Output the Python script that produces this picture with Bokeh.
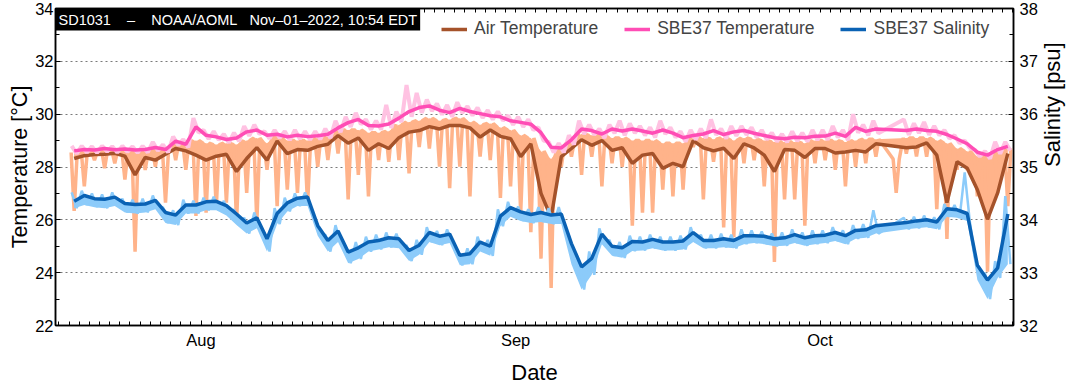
import math
from bokeh.plotting import figure
from bokeh.models import Range1d, LinearAxis, FixedTicker, Label, Legend, LegendItem
from bokeh.embed import file_html
from bokeh.resources import INLINE

# x values: days counted from 2022-07-01 (= day 0); Aug 1 = 31, Sep 1 = 62, Oct 1 = 92
month_ticks = [31, 62, 92]
month_labels = ["Aug", "Sep", "Oct"]
day_ticks = list(range(17, 112))

# one sample per day, starting 2022-07-19 12:00
days = [18.5 + i for i in range(93)]

# SBE37 temperature, daily smoothed [degC]
sbe_temp = [28.61, 28.66, 28.64, 28.70, 28.65, 28.68, 28.64, 28.66, 28.74, 28.66,
            28.98, 28.86, 29.52, 29.20, 29.14, 29.04, 29.10, 29.33, 29.40, 29.20,
            29.24, 29.14, 29.20, 29.15, 29.18, 29.24, 29.48, 29.68, 29.80, 29.57,
            29.55, 29.63, 29.85, 30.10, 30.25, 30.31, 30.15, 30.06, 30.22, 30.10,
            30.02, 29.94, 29.90, 29.75, 29.69, 29.62, 29.30, 28.75, 28.72, 29.03,
            29.44, 29.38, 29.25, 29.44, 29.36, 29.44, 29.36, 29.28, 29.40, 29.28,
            29.11, 29.19, 29.25, 29.38, 29.23, 29.33, 29.38, 29.28, 29.19, 29.11,
            29.07, 29.13, 29.11, 29.16, 29.17, 29.28, 29.16, 29.50, 29.35, 29.44,
            None, None, 29.38, 29.44, 29.38, 29.35, 29.23, 29.06, 28.88, 28.56,
            28.45, 28.66, 28.78]
sbe_temp_hi = [28.80, 28.80, 28.78, 28.80, 28.78, 28.80, 28.78, 28.80, 28.95, 28.85,
               29.15, 29.05, 29.85, 29.40, 29.35, 29.25, 29.30, 29.55, 29.60, 29.35,
               29.40, 29.35, 29.40, 29.35, 29.35, 29.45, 29.75, 29.90, 30.05, 29.80,
               29.75, 30.35, 30.10, 31.10, 30.80, 30.55, 30.40, 30.35, 30.45, 30.30,
               30.25, 30.15, 30.10, 29.95, 29.90, 29.80, 29.50, 28.95, 28.90, 29.20,
               29.75, 29.60, 29.45, 29.60, 29.75, 29.65, 29.55, 29.50, 29.75, 29.50,
               29.35, 29.40, 29.45, 29.80, 29.45, 29.55, 29.55, 29.50, 29.40, 29.30,
               29.25, 29.35, 29.30, 29.40, 29.40, 29.55, 29.40, 30.00, 29.60, 29.75,
               None, None, 29.80, 29.65, 29.70, 29.55, 29.40, 29.20, 29.00, 28.65,
               28.60, 28.95, 28.95]
sbe_temp_lo = [28.50, 28.55, 28.54, 28.58, 28.55, 28.57, 28.54, 28.55, 28.62, 28.55,
               28.82, 28.74, 29.30, 29.06, 29.02, 28.92, 28.98, 29.18, 29.25, 29.08,
               29.10, 29.02, 29.06, 29.03, 29.05, 29.10, 29.32, 29.52, 29.62, 29.42,
               29.42, 29.48, 29.70, 29.90, 30.05, 30.12, 29.98, 29.90, 30.05, 29.95,
               29.86, 29.80, 29.76, 29.60, 29.52, 29.40, 29.00, 28.55, 28.55, 28.85,
               29.25, 29.22, 29.10, 29.28, 29.20, 29.28, 29.20, 29.12, 29.25, 29.12,
               28.96, 29.04, 29.10, 29.22, 29.08, 29.18, 29.22, 29.12, 29.04, 28.96,
               28.94, 28.98, 28.96, 29.02, 29.03, 29.12, 29.02, 29.30, 29.20, 29.28,
               None, None, 29.22, 29.28, 29.22, 29.20, 29.08, 28.90, 28.72, 28.40,
               28.32, 28.50, 28.62]

# Air temperature, daily smoothed [degC]
air_temp = [28.32, 28.43, 28.47, 28.48, 28.52, 28.41, 27.70, 28.36, 28.26, 28.48,
            28.70, 28.61, 28.45, 28.26, 28.41, 28.48, 27.83, 28.32, 28.73, 28.26,
            28.98, 28.51, 28.66, 28.63, 28.78, 28.86, 29.19, 28.90, 29.10, 28.63,
            28.88, 28.70, 29.11, 29.32, 29.38, 29.53, 29.44, 29.57, 29.57, 29.48,
            29.13, 29.40, 29.16, 29.07, 28.39, 28.88, 27.00, 26.09, 28.39, 28.70,
            29.03, 28.82, 29.00, 28.63, 28.73, 28.14, 28.45, 28.51, 27.95, 28.14,
            28.01, 29.00, 28.73, 28.61, 28.71, 28.32, 28.88, 28.72, 28.45, 27.83,
            28.66, 28.63, 28.36, 28.70, 28.70, 28.53, 28.57, 28.63, 28.57, 28.88,
            None, None, 28.73, 28.76, 28.91, 28.45, 26.65, 28.20, 27.95, 27.14,
            26.02, 27.02, 28.51]
air_temp_hi = [28.55, 28.60, 28.60, 28.65, 28.65, 28.60, 28.60, 28.60, 28.70, 28.65,
               28.90, 28.90, 29.00, 28.90, 28.85, 28.90, 28.85, 29.00, 29.10, 28.90,
               29.20, 29.00, 29.00, 29.00, 29.10, 29.15, 29.40, 29.40, 29.40, 29.30,
               29.30, 29.35, 29.60, 29.70, 29.75, 29.85, 29.75, 29.80, 29.85, 29.70,
               29.60, 29.65, 29.50, 29.40, 29.20, 29.10, 28.60, 28.30, 28.80, 29.00,
               29.25, 29.20, 29.20, 29.10, 29.10, 29.00, 29.00, 29.00, 28.90, 28.90,
               28.90, 29.10, 29.10, 29.05, 29.10, 29.00, 29.10, 29.05, 29.00, 28.95,
               28.95, 28.95, 28.90, 29.00, 29.00, 29.00, 28.95, 29.00, 29.05, 29.05,
               None, 28.30, 29.10, 29.10, 29.10, 29.00, 28.90, 28.70, 28.60, 28.40,
               28.50, 28.60, 28.70]
air_temp_lo = [26.34, 27.27, 28.26, 27.95, 28.14, 27.52, 24.79, 27.89, 28.01, 26.65,
               28.26, 27.89, 26.15, 26.27, 26.46, 26.65, 25.90, 27.02, 25.88, 27.89,
               26.52, 27.14, 27.02, 26.58, 28.01, 28.26, 28.51, 26.77, 27.70, 26.89,
               28.26, 28.20, 28.26, 27.76, 28.76, 28.70, 28.01, 27.20, 28.01, 26.89,
               28.39, 28.26, 26.83, 27.27, 26.27, 25.53, 24.53, 23.42, 28.01, 28.39,
               27.70, 28.39, 27.27, 28.14, 28.01, 25.78, 26.27, 26.27, 27.14, 26.89,
               27.14, 28.76, 26.77, 28.20, 25.71, 25.34, 28.14, 28.26, 27.27, 24.41,
               26.77, 26.77, 25.78, 28.14, 28.26, 27.89, 27.27, 28.01, 28.14, 28.39,
               None, 27.02, 28.50, 28.40, 28.39, 26.40, 25.28, 27.90, 27.89, 26.89,
               24.04, 27.02, 26.52]

# SBE37 salinity, daily smoothed [psu]
salinity = [34.35, 34.46, 34.40, 34.39, 34.43, 34.31, 34.29, 34.30, 34.37, 34.14,
            34.09, 34.28, 34.28, 34.34, 34.35, 34.27, 34.11, 33.94, 34.04, 33.64,
            34.12, 34.32, 34.41, 34.43, 33.89, 33.61, 33.79, 33.39, 33.47, 33.58,
            33.61, 33.66, 33.64, 33.42, 33.52, 33.76, 33.69, 33.73, 33.33, 33.36,
            33.58, 33.50, 34.07, 34.23, 34.15, 34.10, 34.14, 34.09, 34.11, 33.55,
            33.11, 33.27, 33.73, 33.50, 33.47, 33.59, 33.58, 33.63, 33.58, 33.58,
            33.60, 33.76, 33.61, 33.61, 33.64, 33.61, 33.70, 33.70, 33.69, 33.64,
            33.66, 33.72, 33.66, 33.70, 33.71, 33.76, 33.70, 33.80, 33.81, 33.89,
            None, None, 33.95, 33.98, 34.00, 33.96, 34.21, 34.19, 34.12, 33.14,
            32.86, 33.09, 34.11]
salinity_hi = [34.52, 34.55, 34.50, 34.48, 34.52, 34.40, 34.38, 34.40, 34.46, 34.24,
               34.18, 34.38, 34.36, 34.42, 34.44, 34.36, 34.20, 34.04, 34.14, 33.75,
               34.22, 34.42, 34.50, 34.52, 34.00, 33.72, 33.90, 33.50, 33.58, 33.68,
               33.72, 33.76, 33.74, 33.52, 33.62, 33.86, 33.79, 33.82, 33.43, 33.46,
               33.68, 33.62, 34.20, 34.34, 34.25, 34.20, 34.24, 34.22, 34.24, 33.70,
               33.22, 33.40, 33.84, 33.62, 33.58, 33.70, 33.68, 33.72, 33.68, 33.68,
               33.70, 33.86, 33.72, 33.72, 33.74, 33.72, 33.82, 33.80, 33.78, 33.74,
               33.76, 33.82, 33.76, 33.80, 33.80, 33.86, 33.80, 33.90, 33.92, 34.18,
               None, None, 34.04, 34.06, 34.08, 34.05, 34.30, 34.28, 34.90, 33.30,
               33.00, 33.22, 34.45]
salinity_lo = [34.22, 34.28, 34.24, 34.22, 34.26, 34.14, 34.12, 34.14, 34.20, 33.94,
               33.90, 34.12, 34.12, 34.18, 34.18, 34.08, 33.90, 33.74, 33.84, 33.40,
               33.92, 34.16, 34.26, 34.26, 33.70, 33.40, 33.58, 33.18, 33.26, 33.40,
               33.44, 33.48, 33.46, 33.22, 33.34, 33.58, 33.52, 33.56, 33.14, 33.16,
               33.40, 33.32, 33.88, 34.06, 33.98, 33.94, 33.96, 33.92, 33.92, 33.16,
               32.68, 32.96, 33.54, 33.32, 33.28, 33.41, 33.42, 33.46, 33.42, 33.42,
               33.44, 33.58, 33.46, 33.46, 33.48, 33.46, 33.54, 33.56, 33.54, 33.50,
               33.51, 33.56, 33.51, 33.54, 33.56, 33.60, 33.54, 33.64, 33.66, 33.74,
               None, None, 33.82, 33.84, 33.86, 33.82, 34.06, 34.04, 33.98, 32.86,
               32.50, 32.90, 33.16]

temp_left_ticks = [22, 24, 26, 28, 30, 32, 34]
temp_minor_ticks = [23, 25, 27, 29, 31, 33]
grid_ticks = [24, 26, 28, 30, 32]
sal_ticks = [32, 33, 34, 35, 36, 37, 38]
sal_minor_ticks = [32.5, 33.5, 34.5, 35.5, 36.5, 37.5]

NB = "\u00a0"
title_text = ("SD1031" + NB * 4 + "\u2013" + NB * 4 + "NOAA/AOML" + NB * 3
              + "Nov\u201301\u20132022, 10:54 EDT")

FONT = "Liberation Sans"


def present(*cols):
    keep = [row for row in zip(*cols) if all(v is not None for v in row)]
    return [list(c) for c in zip(*keep)]


def zigzag(xs, hi, lo):
    # high - low - high around every daily sample (narrow downward spikes)
    rx, ry = [], []
    for x, h, l in zip(xs, hi, lo):
        if h is None:
            continue
        rx += [x - 0.3, x, x + 0.3]
        ry += [h, l, h]
    return rx, ry


def sawtooth(xs, hi, lo):
    rx, ry = [], []
    for x, h, l in zip(xs, hi, lo):
        if h is None:
            continue
        rx += [x - 0.25, x + 0.25]
        ry += [h, l]
    return rx, ry


p = figure(width=1080, height=387, output_backend="svg", toolbar_location=None,
           x_range=Range1d(16.66, 111.06), y_range=Range1d(22, 34),
           min_border_left=55, min_border_right=64, min_border_top=8, min_border_bottom=60)
p.extra_y_ranges = {"sal": Range1d(32, 38)}
p.background_fill_color = "white"
p.outline_line_color = "black"
p.outline_line_width = 1.5

AIR_RAW = "#FFB38A"
TEMP_RAW = "#FFC2E2"
SAL_RAW = "#8CCBFA"

# air temperature: raw band + downward spikes, then smoothed line
bx, bs, bh = present(days, air_temp, air_temp_hi)
p.varea(x=bx, y1=bs, y2=bh, fill_color=AIR_RAW)
rx, ry = zigzag(days, air_temp_hi, air_temp_lo)
p.line(rx, ry, line_color=AIR_RAW, line_width=3.5)
sx, sy = present(days, air_temp)
r_air = p.line(sx, sy, line_color="#A5522A", line_width=3.5)

# SBE37 temperature
rx, ry = sawtooth(days, sbe_temp_hi, sbe_temp_lo)
p.line(rx, ry, line_color=TEMP_RAW, line_width=4)
sx, sy = present(days, sbe_temp)
r_sbe = p.line(sx, sy, line_color="#FF4DB5", line_width=3.5)

# SBE37 salinity (right axis): raw band below the smoothed line + raw trace
bx, bl, bs = present(days, salinity_lo, salinity)
p.varea(x=bx, y1=bl, y2=bs, fill_color=SAL_RAW, y_range_name="sal")
rx, ry = sawtooth(days, salinity_hi, salinity_lo)
p.line(rx, ry, line_color=SAL_RAW, line_width=2.5, y_range_name="sal")
sx, sy = present(days, salinity)
r_sal = p.line(sx, sy, line_color="#0A62B4", line_width=3.5, y_range_name="sal")


def style_axis(ax):
    ax.axis_line_color = "black"
    ax.axis_line_width = 1.5
    ax.major_tick_line_color = "black"
    ax.minor_tick_line_color = "black"
    ax.major_tick_line_width = 1
    ax.minor_tick_line_width = 1
    ax.major_tick_in = 5
    ax.major_tick_out = 0
    ax.minor_tick_in = 4
    ax.minor_tick_out = 0
    ax.major_label_text_font = FONT
    ax.major_label_text_font_size = "16.5px"
    ax.major_label_text_color = "black"
    ax.axis_label_text_font = FONT
    ax.axis_label_text_font_size = "22px"
    ax.axis_label_text_font_style = "normal"
    ax.axis_label_text_color = "black"


xa = p.xaxis[0]
xa.ticker = FixedTicker(ticks=month_ticks, minor_ticks=day_ticks)
xa.major_label_overrides = {t: l for t, l in zip(month_ticks, month_labels)}
style_axis(xa)
xa.axis_label = "Date"
xa.major_label_standoff = 5
xa.axis_label_standoff = 8

ya = p.yaxis[0]
ya.ticker = FixedTicker(ticks=temp_left_ticks, minor_ticks=temp_minor_ticks)
style_axis(ya)
ya.axis_label = "Temperature [\u00b0C]"
ya.axis_label_text_font_size = "21.5px"
ya.major_label_standoff = 2
ya.axis_label_standoff = 0

ra = LinearAxis(y_range_name="sal",
                ticker=FixedTicker(ticks=sal_ticks, minor_ticks=sal_minor_ticks),
                axis_label="Salinity [psu]")
style_axis(ra)
ra.major_label_standoff = 6
ra.axis_label_standoff = 12
ra.axis_label_orientation = math.pi / 2
p.add_layout(ra, "right")

# top border with day ticks only (no labels)
ta = LinearAxis(ticker=FixedTicker(ticks=[], minor_ticks=day_ticks))
style_axis(ta)
ta.major_label_standoff = 0
p.add_layout(ta, "above")

p.xgrid.visible = False
p.ygrid.ticker = FixedTicker(ticks=grid_ticks)
p.ygrid.grid_line_color = "#7a7a7a"
p.ygrid.grid_line_dash = "2 3"
p.ygrid.grid_line_width = 1

title = Label(x=16.66, y=34, text=title_text, text_baseline="top", text_align="left",
              text_color="white", text_font=FONT, text_font_size="14.5px",
              background_fill_color="black", background_fill_alpha=1.0, padding=3)
p.add_layout(title)

legend = Legend(items=[LegendItem(label="Air Temperature", renderers=[r_air]),
                       LegendItem(label="SBE37 Temperature", renderers=[r_sbe]),
                       LegendItem(label="SBE37 Salinity", renderers=[r_sal])],
                location=(380, 280), orientation="horizontal")
legend.label_text_font = FONT
legend.label_text_font_size = "17.5px"
legend.glyph_width = 26
legend.label_standoff = 7
legend.spacing = 26
legend.background_fill_alpha = 0
legend.border_line_alpha = 0
legend.margin = 0
legend.padding = 6
p.add_layout(legend, "center")

open("out.html", "w").write(file_html(p, INLINE))
